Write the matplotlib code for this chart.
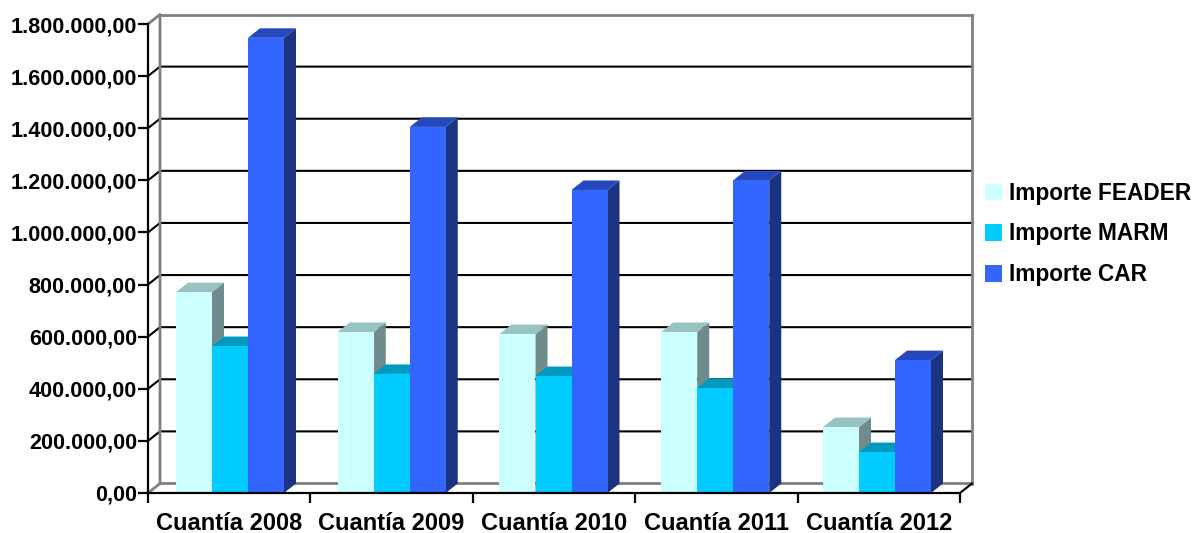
import matplotlib
matplotlib.use('Agg')
import matplotlib.pyplot as plt
from matplotlib.patches import Polygon, Patch
from matplotlib.ticker import FuncFormatter

categories = ['Cuantía 2008', 'Cuantía 2009', 'Cuantía 2010', 'Cuantía 2011', 'Cuantía 2012']
series_names = ['Importe FEADER', 'Importe MARM', 'Importe CAR']
feader = [771000, 618000, 610000, 618000, 253000]
marm = [564000, 457000, 449000, 403000, 157000]
car = [1747000, 1405000, 1163000, 1200000, 510000]
yticks = [0, 200000, 400000, 600000, 800000, 1000000, 1200000, 1400000, 1600000, 1800000]

front_colors = ['#CCFFFF', '#00CCFF', '#3366FF']
top_colors = ['#99C2C2', '#0099BF', '#2648BF']
side_colors = ['#6F8C8C', '#007A99', '#1C3380']

plt.rcParams['font.family'] = ['Liberation Sans', 'DejaVu Sans']
plt.rcParams['font.weight'] = 'bold'

fig = plt.figure(figsize=(11.94, 5.33), dpi=100)
ax = fig.add_axes([148 / 1194, 40 / 533, 812 / 1194, 469 / 533])
ax.set_xlim(0, 5)
ax.set_ylim(0, 1800000)

# profundidad del efecto 3D, en unidades de datos (12 px y 9.5 px)
px = 5 / 812
dx = 12 * px
dy = 9.5 / (469 / 1800000)
bar_w = 36 * px

# paredes del fondo
grey = '#808080'
def line(xs, ys, color, lw, z=1):
    ax.plot(xs, ys, color=color, lw=lw, zorder=z, clip_on=False, solid_capstyle='projecting')

for v in yticks[1:-1]:
    line([0, dx, 5 + dx], [v, v + dy, v + dy], 'black', 1.5)
line([0, dx, dx], [1800000, 1800000 + dy, dy], grey, 2)
line([dx, 5 + dx], [1800000 + dy, 1800000 + dy], grey, 2)
line([5 + dx, 5 + dx], [1800000 + dy, dy], grey, 2)
line([0, dx, 5 + dx], [0, dy, dy], grey, 2)
line([5, 5 + dx], [0, dy], 'black', 1.5)

# barras con cara lateral y superior
z = 3
for i in range(len(categories)):
    for j, vals in enumerate([feader, marm, car]):
        # los grupos van cada 161.75 px, un poco menos que los ticks
        x0 = (28 + 161.75 * i + 36 * j) * px
        x1 = x0 + bar_w
        v = vals[i]
        ax.add_patch(Polygon([(x1, 0), (x1 + dx, dy), (x1 + dx, v + dy), (x1, v)],
                             fc=side_colors[j], ec='none', zorder=z, clip_on=False))
        ax.add_patch(Polygon([(x0, v), (x0 + dx, v + dy), (x1 + dx, v + dy), (x1, v)],
                             fc=top_colors[j], ec='none', zorder=z, clip_on=False))
        ax.bar(x0, v, width=bar_w, align='edge', color=front_colors[j], zorder=z + 1)
        z += 2

for s in ['top', 'right']:
    ax.spines[s].set_visible(False)
for s in ['left', 'bottom']:
    ax.spines[s].set_linewidth(1.6)
    ax.spines[s].set_zorder(100)

ax.set_yticks(yticks)
ax.yaxis.set_major_formatter(FuncFormatter(lambda v, p: f'{int(v):,}'.replace(',', '.') + ',00'))
ax.set_xticks(range(6))
ax.set_xticklabels([])
ax.tick_params(axis='both', length=7, width=1.6, labelsize=15.6, pad=1)
for i, c in enumerate(categories):
    ax.text(i + 0.5, -118000, c, ha='center', va='center', fontsize=17, fontweight='bold')

handles = [Patch(fc=c, ec='none') for c in front_colors]
fig.legend(handles, series_names, loc='center left', bbox_to_anchor=(985 / 1194, 1 - 234 / 533),
           frameon=False, fontsize=16.3, handlelength=0.75, handleheight=0.75, handletextpad=0.31,
           labelspacing=0.78, borderpad=0, borderaxespad=0)

fig.savefig('out.png', dpi=100)
